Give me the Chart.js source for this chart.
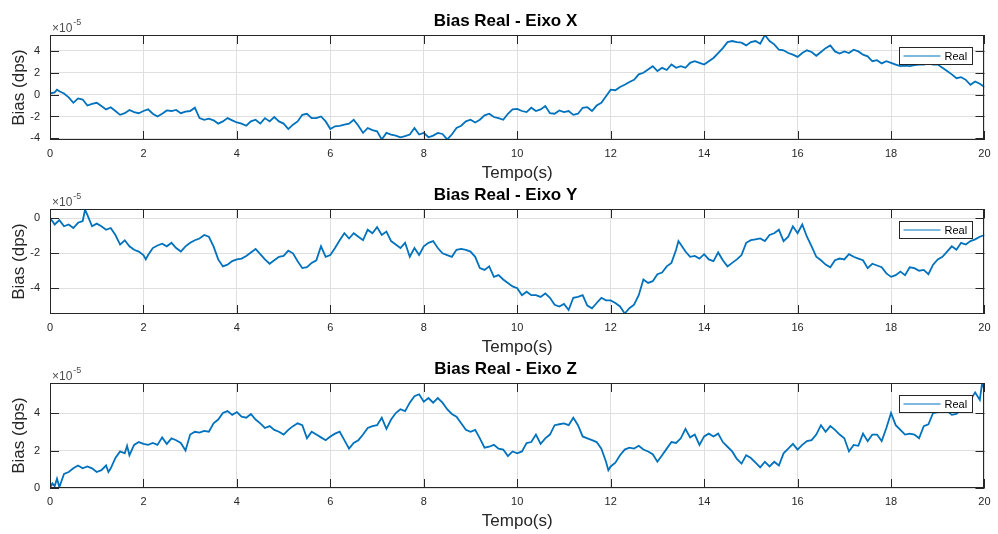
<!DOCTYPE html>
<html lang="pt">
<head>
  <meta charset="UTF-8">
  <title>Bias Real</title>
  <script src="https://cdn.jsdelivr.net/npm/chart.js"></script>
  <style>
    body {
      margin: 0;
      width: 998px;
      height: 534px;
      overflow: hidden;
      background: #ffffff;
      position: relative;
    }
    canvas {
      position: absolute;
      left: 0;
    }
    #chartX { top: 0; }
    #chartY { top: 174px; }
    #chartZ { top: 348px; }
  </style>
</head>
<body>
  <canvas id="chartX" width="998" height="185"></canvas>
  <canvas id="chartY" width="998" height="185"></canvas>
  <canvas id="chartZ" width="998" height="185"></canvas>

  <script>
    // valores em unidades de 1e-5 dps
    const EXPOENTE = '-5';
    const tempoTicks = [0, 2, 4, 6, 8, 10, 12, 14, 16, 18, 20];
    const ticksX = [-4, -2, 0, 2, 4];
    const ticksY = [-4, -2, 0];
    const ticksZ = [0, 2, 4];

    // Eixo X
    const tempoX = [0, 0.1, 0.15, 0.2, 0.3, 0.4, 0.5, 0.6, 0.7, 0.8, 0.9, 1.0, 1.1, 1.2, 1.3, 1.4, 1.5, 1.6, 1.7, 1.8, 1.9,
      2.0, 2.1, 2.2, 2.3, 2.4, 2.5, 2.6, 2.7, 2.8, 2.9, 3.0, 3.1, 3.2, 3.3, 3.4, 3.5, 3.6, 3.7, 3.8, 3.9,
      4.0, 4.1, 4.2, 4.3, 4.4, 4.5, 4.6, 4.7, 4.8, 4.9, 5.0, 5.1, 5.2, 5.3, 5.4, 5.5, 5.6, 5.7, 5.8, 5.9,
      6.0, 6.1, 6.2, 6.3, 6.4, 6.5, 6.6, 6.7, 6.8, 6.9, 7.0, 7.1, 7.2, 7.3, 7.4, 7.5, 7.6, 7.7, 7.8, 7.9,
      8.0, 8.1, 8.2, 8.3, 8.4, 8.5, 8.6, 8.7, 8.8, 8.9, 9.0, 9.1, 9.2, 9.3, 9.4, 9.5, 9.6, 9.7, 9.8, 9.9,
      10.0, 10.1, 10.2, 10.3, 10.4, 10.5, 10.6, 10.7, 10.8, 10.9, 11.0, 11.1, 11.2, 11.3, 11.4, 11.5, 11.6, 11.7, 11.8, 11.9,
      12.0, 12.1, 12.2, 12.3, 12.4, 12.5, 12.6, 12.7, 12.8, 12.9, 13.0, 13.1, 13.2, 13.3, 13.4, 13.5, 13.6, 13.7, 13.8, 13.9,
      14.0, 14.1, 14.2, 14.3, 14.4, 14.5, 14.6, 14.7, 14.8, 14.9, 15.0, 15.1, 15.2, 15.3, 15.4, 15.5, 15.6, 15.7, 15.8, 15.9,
      16.0, 16.1, 16.2, 16.3, 16.4, 16.5, 16.6, 16.7, 16.8, 16.9, 17.0, 17.1, 17.2, 17.3, 17.4, 17.5, 17.6, 17.7, 17.8, 17.9,
      18.0, 18.1, 18.2, 18.3, 18.4, 18.5, 18.6, 18.7, 18.8, 18.9, 19.0, 19.1, 19.2, 19.3, 19.4, 19.5, 19.6, 19.7, 19.8, 19.9, 20.0];
    const biasX = [0.1, 0.2, 0.45, 0.3, 0.1, -0.25, -0.75, -0.35, -0.45, -1.0, -0.85, -0.75, -1.05, -1.35, -1.15, -1.5, -1.85, -1.7, -1.4, -1.6, -1.7,
      -1.5, -1.35, -1.75, -2.0, -1.75, -1.45, -1.5, -1.4, -1.7, -1.55, -1.5, -1.2, -2.15, -2.3, -2.2, -2.35, -2.65, -2.45, -2.15, -2.35,
      -2.55, -2.65, -2.85, -2.45, -2.3, -2.65, -2.15, -2.45, -2.05, -2.45, -2.65, -3.15, -2.75, -2.45, -1.85, -1.75, -2.15, -2.15, -2.0, -2.45,
      -3.15, -2.9, -2.85, -2.75, -2.65, -2.3, -2.85, -3.5, -3.05, -3.25, -3.35, -4.1, -3.5, -3.65, -3.75, -3.9, -3.8, -3.65, -3.05, -3.65,
      -3.5, -3.9, -3.75, -3.5, -3.6, -4.1, -3.65, -3.05, -2.85, -2.45, -2.3, -2.55, -2.3, -1.9, -1.75, -2.05, -2.15, -2.3, -1.75, -1.35,
      -1.3, -1.5, -1.6, -1.2, -1.5, -1.35, -1.05, -1.7, -1.75, -1.45, -1.6, -1.5, -1.85, -1.75, -1.2, -1.15, -1.5, -1.0, -0.75, -0.15,
      0.45, 0.4, 0.7, 0.9, 1.15, 1.35, 1.85, 2.0, 2.3, 2.6, 2.15, 2.45, 2.25, 2.75, 2.45, 2.6, 2.45, 2.9, 3.05, 2.9,
      2.75, 3.05, 3.35, 3.8, 4.25, 4.8, 4.9, 4.8, 4.75, 4.5, 4.8, 4.9, 4.65, 5.45, 4.9, 4.6, 4.1, 4.05, 3.8, 3.65,
      3.45, 3.8, 4.05, 3.9, 3.55, 3.9, 4.25, 4.5, 3.95, 3.75, 3.95, 3.8, 4.1, 3.95, 3.65, 3.5, 3.05, 3.15, 2.85, 3.05,
      2.9, 2.75, 2.6, 2.65, 2.6, 2.7, 2.75, 2.75, 2.85, 2.75, 2.75, 2.45, 2.15, 1.85, 1.5, 1.6, 1.35, 0.9, 1.2, 1.0, 0.7];

    // Eixo Y
    const tempoY = [0, 0.05, 0.1, 0.2, 0.3, 0.4, 0.5, 0.6, 0.7, 0.75, 0.8, 0.9, 1.0, 1.1, 1.2, 1.3, 1.4, 1.5, 1.6, 1.7, 1.8, 1.9,
      2.0, 2.05, 2.1, 2.2, 2.3, 2.4, 2.5, 2.6, 2.7, 2.8, 2.9, 3.0, 3.1, 3.2, 3.3, 3.4, 3.5, 3.6, 3.7, 3.8, 3.9,
      4.0, 4.1, 4.2, 4.3, 4.4, 4.5, 4.6, 4.7, 4.8, 4.9, 5.0, 5.1, 5.2, 5.3, 5.4, 5.5, 5.6, 5.7, 5.8, 5.9,
      6.0, 6.1, 6.2, 6.3, 6.4, 6.5, 6.6, 6.7, 6.8, 6.9, 7.0, 7.1, 7.2, 7.3, 7.4, 7.5, 7.6, 7.7, 7.8, 7.9,
      8.0, 8.1, 8.2, 8.3, 8.4, 8.5, 8.6, 8.7, 8.8, 8.9, 9.0, 9.1, 9.2, 9.3, 9.4, 9.5, 9.6, 9.7, 9.8, 9.9,
      10.0, 10.1, 10.2, 10.3, 10.4, 10.5, 10.6, 10.7, 10.8, 10.9, 11.0, 11.1, 11.2, 11.3, 11.4, 11.5, 11.6, 11.7, 11.8, 11.9,
      12.0, 12.1, 12.2, 12.3, 12.4, 12.5, 12.6, 12.7, 12.8, 12.9, 13.0, 13.1, 13.2, 13.3, 13.4, 13.45, 13.5, 13.6, 13.7, 13.8, 13.9,
      14.0, 14.1, 14.2, 14.3, 14.4, 14.5, 14.6, 14.7, 14.8, 14.9, 15.0, 15.1, 15.2, 15.3, 15.4, 15.5, 15.6, 15.7, 15.8, 15.9,
      16.0, 16.1, 16.2, 16.3, 16.4, 16.5, 16.6, 16.7, 16.8, 16.9, 17.0, 17.1, 17.2, 17.3, 17.4, 17.5, 17.6, 17.7, 17.8, 17.9,
      18.0, 18.1, 18.2, 18.3, 18.4, 18.5, 18.6, 18.7, 18.8, 18.9, 19.0, 19.1, 19.2, 19.3, 19.4, 19.5, 19.6, 19.7, 19.8, 19.9, 20.0];
    const biasY = [0.0, -0.15, -0.35, -0.1, -0.45, -0.35, -0.55, -0.25, -0.15, 0.5, 0.2, -0.45, -0.3, -0.45, -0.65, -0.55, -0.95, -1.5, -1.25, -1.6, -1.8, -1.9,
      -2.1, -2.35, -2.1, -1.7, -1.55, -1.45, -1.6, -1.4, -1.7, -1.9, -1.6, -1.4, -1.25, -1.15, -0.95, -1.05, -1.6, -2.35, -2.75, -2.65, -2.45,
      -2.35, -2.3, -2.15, -1.95, -1.75, -2.05, -2.35, -2.6, -2.4, -2.2, -2.15, -1.85, -2.0, -2.45, -2.85, -2.8, -2.55, -2.4, -1.6, -2.2,
      -2.1, -1.7, -1.25, -0.85, -1.15, -0.85, -1.05, -1.25, -0.65, -0.85, -0.5, -0.95, -0.75, -1.3, -1.5, -1.7, -1.4, -2.2, -1.7, -2.1,
      -1.6, -1.4, -1.3, -1.7, -2.0, -2.1, -2.2, -1.8, -1.75, -1.8, -1.9, -2.2, -2.85, -2.95, -2.75, -3.35, -3.25, -3.5, -3.7, -3.9,
      -4.0, -4.4, -4.2, -4.4, -4.4, -4.5, -4.3, -4.55, -4.95, -5.05, -4.9, -5.25, -4.55, -4.5, -4.4, -5.0, -5.15, -4.85, -4.55, -4.7,
      -4.7, -4.85, -5.05, -5.45, -5.15, -4.95, -4.4, -3.5, -3.7, -3.6, -3.2, -3.1, -2.75, -2.55, -1.8, -1.3, -1.5, -1.9, -2.2, -2.15, -2.3,
      -2.05, -2.35, -2.45, -1.95, -2.4, -2.75, -2.55, -2.35, -2.1, -1.4, -1.25, -1.2, -1.15, -1.3, -0.95, -0.85, -0.65, -1.3, -1.05, -0.45,
      -0.85, -0.35, -1.05, -1.6, -2.2, -2.4, -2.65, -2.8, -2.4, -2.3, -2.35, -2.05, -2.2, -2.3, -2.4, -2.85, -2.6, -2.7, -2.8, -3.15,
      -3.35, -3.25, -3.05, -3.25, -2.8, -2.85, -3.0, -2.95, -3.2, -2.65, -2.35, -2.2, -1.9, -1.6, -1.8, -1.4, -1.5, -1.3, -1.2, -1.05, -0.95];

    // Eixo Z
    const tempoZ = [0, 0.05, 0.1, 0.15, 0.2, 0.25, 0.3, 0.4, 0.5, 0.6, 0.7, 0.8, 0.9, 1.0, 1.1, 1.2, 1.25, 1.3, 1.4, 1.5, 1.6, 1.65, 1.7, 1.8, 1.9,
      2.0, 2.1, 2.2, 2.3, 2.4, 2.5, 2.6, 2.7, 2.8, 2.9, 3.0, 3.1, 3.2, 3.3, 3.4, 3.5, 3.6, 3.7, 3.8, 3.9,
      4.0, 4.1, 4.2, 4.3, 4.4, 4.5, 4.6, 4.7, 4.8, 4.9, 5.0, 5.1, 5.2, 5.3, 5.4, 5.5, 5.6, 5.7, 5.8, 5.9,
      6.0, 6.1, 6.2, 6.3, 6.4, 6.5, 6.6, 6.7, 6.8, 6.9, 7.0, 7.1, 7.2, 7.3, 7.4, 7.5, 7.6, 7.7, 7.8, 7.9,
      8.0, 8.1, 8.2, 8.3, 8.4, 8.5, 8.6, 8.7, 8.8, 8.9, 9.0, 9.1, 9.2, 9.3, 9.4, 9.5, 9.6, 9.7, 9.8, 9.9,
      10.0, 10.1, 10.2, 10.3, 10.4, 10.5, 10.6, 10.7, 10.8, 10.9, 11.0, 11.1, 11.2, 11.3, 11.4, 11.5, 11.6, 11.7, 11.8, 11.9, 11.95,
      12.0, 12.1, 12.2, 12.3, 12.4, 12.5, 12.6, 12.7, 12.8, 12.9, 13.0, 13.1, 13.2, 13.3, 13.4, 13.5, 13.6, 13.7, 13.8, 13.9,
      14.0, 14.1, 14.2, 14.3, 14.4, 14.5, 14.6, 14.7, 14.8, 14.9, 15.0, 15.1, 15.2, 15.3, 15.4, 15.5, 15.6, 15.7, 15.8, 15.9,
      16.0, 16.1, 16.2, 16.3, 16.4, 16.5, 16.6, 16.7, 16.8, 16.9, 17.0, 17.1, 17.2, 17.3, 17.4, 17.5, 17.6, 17.7, 17.8, 17.9,
      18.0, 18.1, 18.2, 18.3, 18.4, 18.5, 18.6, 18.7, 18.8, 18.9, 19.0, 19.1, 19.2, 19.3, 19.4, 19.5, 19.6, 19.7, 19.8, 19.9, 19.95, 20.0];
    const biasZ = [0, 0.25, 0.1, 0.5, 0.05, 0.4, 0.75, 0.85, 1.05, 1.2, 1.05, 1.15, 1.05, 0.85, 0.95, 1.2, 0.85, 1.05, 1.6, 1.95, 1.85, 2.25, 1.75, 2.3, 2.45,
      2.35, 2.3, 2.4, 2.3, 2.7, 2.35, 2.65, 2.55, 2.4, 2.0, 2.85, 3.0, 2.95, 3.05, 3.0, 3.45, 3.65, 4.0, 4.1, 3.9,
      4.05, 3.8, 3.75, 3.95, 3.65, 3.45, 3.2, 3.3, 3.1, 3.0, 2.85, 3.1, 3.3, 3.45, 3.35, 2.65, 3.0, 2.85, 2.7, 2.55,
      2.75, 2.9, 3.0, 2.55, 2.1, 2.4, 2.55, 2.85, 3.2, 3.3, 3.35, 3.75, 3.15, 3.65, 4.0, 4.2, 4.1, 4.55, 4.9, 5.0,
      4.6, 4.8, 4.55, 4.8, 4.55, 4.2, 3.95, 3.8, 3.45, 3.1, 3.0, 3.1, 2.65, 2.15, 2.2, 2.3, 2.1, 2.05, 1.7, 1.95,
      1.85, 1.95, 2.4, 2.45, 2.85, 2.35, 2.65, 2.85, 3.35, 3.4, 3.45, 3.35, 3.75, 3.35, 2.75, 2.65, 2.55, 2.45, 2.1, 1.4, 0.95,
      1.15, 1.35, 1.75, 2.05, 2.15, 2.1, 2.25, 2.05, 1.95, 1.8, 1.4, 1.75, 2.1, 2.45, 2.4, 2.65, 3.15, 2.7, 2.85, 2.3,
      2.75, 2.9, 2.75, 2.9, 2.45, 2.2, 1.95, 1.55, 1.3, 1.75, 1.6, 1.35, 1.1, 1.4, 1.15, 1.4, 1.2, 1.85, 2.1, 2.35,
      2.05, 2.3, 2.5, 2.55, 2.85, 3.35, 3.0, 3.3, 3.1, 2.85, 2.65, 1.95, 2.3, 2.25, 2.9, 2.5, 2.85, 2.85, 2.5, 3.2,
      4.0, 3.35, 3.1, 2.85, 2.9, 2.85, 2.65, 3.3, 3.4, 4.0, 4.05, 4.2, 4.1, 3.9, 3.95, 4.2, 4.45, 4.7, 5.1, 4.7, 5.6, 5.25];

    const fonte = '"Liberation Sans", Arial, Helvetica, sans-serif';
    const corTexto = '#262626';
    const corLinha = '#0072BD';

    // caixa, ticks para dentro, legenda e expoente no estilo MATLAB
    const estiloMatlab = {
      id: 'estiloMatlab',
      afterDatasetsDraw(chart) {
        const { ctx, chartArea: a, scales } = chart;
        ctx.save();
        ctx.strokeStyle = corTexto;
        ctx.lineWidth = 1;
        ctx.beginPath();
        scales.x.ticks.forEach(t => {
          const px = Math.round(scales.x.getPixelForValue(t.value)) + 0.5;
          ctx.moveTo(px, a.bottom); ctx.lineTo(px, a.bottom - 9);
          ctx.moveTo(px, a.top); ctx.lineTo(px, a.top + 9);
        });
        scales.y.ticks.forEach(t => {
          const py = Math.round(scales.y.getPixelForValue(t.value)) + 0.5;
          ctx.moveTo(a.left, py); ctx.lineTo(a.left + 9, py);
          ctx.moveTo(a.right, py); ctx.lineTo(a.right - 9, py);
        });
        ctx.stroke();
        ctx.strokeRect(Math.round(a.left) + 0.5, Math.round(a.top) + 0.5,
          Math.round(a.right - a.left) - 1, Math.round(a.bottom - a.top) - 1);

        // legenda
        const ds = chart.data.datasets[0];
        const lx = Math.round(a.right) - 84.5, ly = Math.round(a.top) + 12.5;
        ctx.fillStyle = '#ffffff';
        ctx.fillRect(lx, ly, 73, 17);
        ctx.strokeRect(lx, ly, 73, 17);
        ctx.strokeStyle = ds.borderColor;
        ctx.beginPath();
        ctx.moveTo(lx + 4, ly + 8.5); ctx.lineTo(lx + 41, ly + 8.5);
        ctx.stroke();
        ctx.fillStyle = '#000000';
        ctx.font = '11px ' + fonte;
        ctx.textBaseline = 'middle';
        ctx.textAlign = 'left';
        ctx.fillText(ds.label, lx + 45, ly + 9);
        ctx.restore();
      },
      afterDraw(chart) {
        const { ctx, chartArea: a } = chart;
        ctx.save();
        ctx.fillStyle = '#4d4d4d';
        ctx.textBaseline = 'alphabetic';
        ctx.textAlign = 'left';
        ctx.font = '12px ' + fonte;
        ctx.fillText('\u00d710', a.left + 2, a.top - 3);
        const w = ctx.measureText('\u00d710').width;
        ctx.font = '9px ' + fonte;
        ctx.fillText(EXPOENTE, a.left + 3 + w, a.top - 10);
        ctx.restore();
      }
    };

    function desenhar(id, titulo, tempos, valores, yMin, yMax, yTicks) {
      const ctx = document.getElementById(id).getContext('2d');
      return new Chart(ctx, {
        type: 'line',
        data: {
          datasets: [{
            label: 'Real',
            data: tempos.map((t, i) => ({ x: t, y: valores[i] })),
            borderColor: corLinha,
            borderWidth: 1.8,
            pointRadius: 0,
            tension: 0,
            fill: false,
          }],
        },
        options: {
          responsive: false,
          animation: false,
          events: [],
          layout: { padding: { left: 25, right: 12, top: 0, bottom: 0 } },
          plugins: {
            legend: { display: false },
            tooltip: { enabled: false },
            title: {
              display: true,
              text: titulo,
              color: '#000000',
              font: { family: fonte, size: 17, weight: 'bold' },
              padding: { top: 11.3, bottom: 3.3 },
            },
          },
          scales: {
            x: {
              type: 'linear',
              min: 0,
              max: 20,
              afterBuildTicks: s => { s.ticks = tempoTicks.map(v => ({ value: v })); },
              afterFit: s => { s.height = 45; },
              grid: { color: '#dfdfdf', drawTicks: false },
              border: { display: false },
              ticks: {
                color: corTexto, font: { family: fonte, size: 11 }, padding: 7.4,
                maxRotation: 0, autoSkip: false, callback: v => String(v),
              },
              title: {
                display: true, text: 'Tempo(s)', color: corTexto,
                font: { family: fonte, size: 17 }, padding: { top: 0, bottom: 1.3 },
              },
            },
            y: {
              type: 'linear',
              min: yMin,
              max: yMax,
              afterBuildTicks: s => { s.ticks = yTicks.map(v => ({ value: v })); },
              afterFit: s => { s.width = 25; },
              grid: { color: '#dfdfdf', drawTicks: false },
              border: { display: false },
              ticks: {
                color: corTexto, font: { family: fonte, size: 11 }, padding: 10,
                callback: v => String(v),
              },
              title: {
                display: true, text: 'Bias (dps)', color: corTexto,
                font: { family: fonte, size: 17 }, padding: { top: -15.7, bottom: 0 },
              },
            },
          },
        },
        plugins: [estiloMatlab],
      });
    }

    desenhar('chartX', 'Bias Real - Eixo X', tempoX, biasX, -4.15, 5.45, ticksX);
    desenhar('chartY', 'Bias Real - Eixo Y', tempoY, biasY, -5.48, 0.54, ticksY);
    desenhar('chartZ', 'Bias Real - Eixo Z', tempoZ, biasZ, 0, 5.6, ticksZ);
  </script>
</body>
</html>
